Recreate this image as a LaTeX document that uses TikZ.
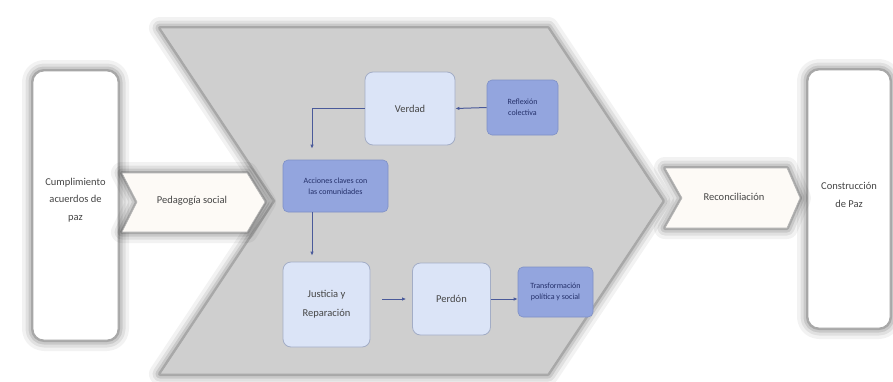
\documentclass[tikz,border=0pt]{standalone}
\usepackage{fontspec}
\setmainfont{Carlito}
\usetikzlibrary{arrows.meta}
\definecolor{chev}{HTML}{CFCFCF}
\definecolor{chevedge}{HTML}{A8A8A8}
\definecolor{lightbox}{HTML}{DBE4F7}
\definecolor{lightedge}{HTML}{A3ADC6}
\definecolor{darkbox}{HTML}{93A5DE}
\definecolor{darkedge}{HTML}{7F90C6}
\definecolor{conn}{HTML}{4A5A9A}
\definecolor{txt}{HTML}{454545}
\definecolor{darktxt}{HTML}{24306A}
\definecolor{arrowfill}{HTML}{FDFAF6}
\newcommand\myhalo[1]{%
  \foreach \w/\o in {22/0.05,15/0.07,9/0.10,4/0.16}{%
    \draw[line width=\w pt, black, opacity=\o, line join=round] #1;}}
\tikzset{
  outerbox/.style={draw=gray!70, line width=0.8pt, fill=white, rounded corners=11pt,
    align=center, text=txt, font=\fontsize{10}{17}\selectfont},
  shapeedge/.style={draw=gray!60, line width=0.6pt, fill=arrowfill},
  lightnode/.style={draw=lightedge, line width=0.8pt, fill=lightbox, rounded corners=8pt,
    align=center, text=txt, font=\fontsize{10.5}{19}\selectfont},
  darknode/.style={draw=darkedge, line width=0.6pt, fill=darkbox, rounded corners=5pt,
    align=center, text=darktxt, font=\fontsize{8}{11.5}\selectfont},
  link/.style={draw=conn, line width=1pt, -{Latex[length=4pt,width=3.5pt]}},
  label/.style={text=txt, font=\fontsize{10.5}{12}\selectfont}
}
\begin{document}
\begin{tikzpicture}[x=1pt,y=-1pt]
\useasboundingbox (0,0) rectangle (893,381);
\fill[white] (0,0) rectangle (893,381);

% big chevron
\myhalo{(160,28) -- (548,28) -- (663,201) -- (548,374) -- (160,374) -- (275,201) -- cycle}
\draw[fill=chev, draw=chevedge, line width=0.8pt]
  (160,28) -- (548,28) -- (663,201) -- (548,374) -- (160,374) -- (275,201) -- cycle;

% left box
\myhalo{[rounded corners=11pt] (33,71) rectangle (118,340)}
\node[outerbox, minimum width=85pt, minimum height=269pt] (cum) at (75.5,205.5) {};
\node[align=center, text=txt, font=\fontsize{10.5}{17.5}\selectfont] (cumt) at (75.5,200) {Cumplimiento\\acuerdos de\\paz};

% right box
\myhalo{[rounded corners=11pt] (808,70) rectangle (890,328)}
\node[outerbox, minimum width=82pt, minimum height=258pt] (con) at (849,199) {};
\node[align=center, text=txt, font=\fontsize{10.5}{17.5}\selectfont] (cont) at (849,195) {Construcción\\de Paz};

% Pedagogia social arrow
\myhalo{(122,173) -- (247,173) -- (265,202) -- (247,232) -- (122,232) -- (137,202) -- cycle}
\draw[shapeedge] (122,173) -- (247,173) -- (265,202) -- (247,232) -- (122,232) -- (137,202) -- cycle;
\node[label] (ped) at (192,201) {Pedagogía social};

% Reconciliacion arrow
\myhalo{(665,168) -- (787,168) -- (800,198) -- (787,228) -- (665,228) -- (682,198) -- cycle}
\draw[shapeedge] (665,168) -- (787,168) -- (800,198) -- (787,228) -- (665,228) -- (682,198) -- cycle;
\node[label] (rec) at (734,197) {Reconciliación};

% inner nodes
\node[lightnode, minimum width=90pt, minimum height=73pt] (ver) at (410,108.5) {Verdad};
\node[darknode, minimum width=71pt, minimum height=55pt] (ref) at (522.5,107.5) {Reflexión\\colectiva};
\node[darknode, minimum width=105pt, minimum height=52pt] (acc) at (335.5,186) {Acciones claves con\\las comunidades};
\node[lightnode, minimum width=87pt, minimum height=85pt] (jus) at (326.5,304.5) {Justicia y\\Reparación};
\node[lightnode, minimum width=78pt, minimum height=72pt] (per) at (451.5,299) {Perdón};
\node[darknode, minimum width=75pt, minimum height=50pt] (tra) at (555.5,292) {Transformación\\política y social};

\coordinate (vx) at (312,0);

% connectors
\draw[link] (ref.west) -- (ver.east);
\draw[link, shorten >=11pt] (ver.west) -| (acc.north -| vx);
\draw[link, shorten >=6pt] (acc.south -| vx) -- (jus.north -| vx);
\draw[link, shorten <=12pt, shorten >=6pt] (jus.east |- per.west) -- (per.west);
\draw[link] (per.east) -- (tra.west |- per.east);
\end{tikzpicture}
\end{document}
